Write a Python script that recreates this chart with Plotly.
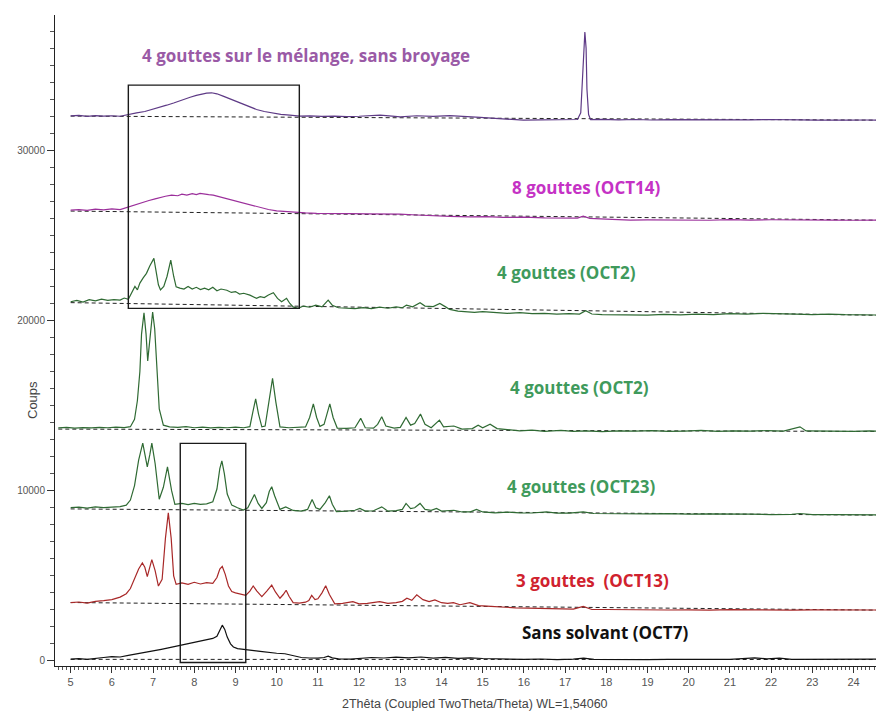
import plotly.graph_objects as go

# ---------------- data ----------------
oct7_x = [5.0,5.2,5.4,5.6,5.8,6.0,6.2,6.4,6.6,6.8,7.0,7.2,7.4,7.6,7.8,8.0,8.2,8.35,8.45,8.55,8.62,8.68,8.74,8.8,8.88,8.95,9.05,9.2,9.4,9.6,9.8,10.0,10.2,10.4,10.6,10.8,11.0,11.15,11.25,11.35,11.5,11.8,12.0,12.3,12.6,12.9,13.2,13.5,13.8,14.1,14.4,14.7,15.0,15.3,15.6,16.0,16.4,16.8,17.2,17.45,17.7,18.0,18.5,19.0,19.5,20.0,20.5,21.0,21.3,21.6,21.9,22.2,22.5,23.0,23.5,24.0,24.4,24.75]
oct7_y = [100,130,90,160,200,250,230,320,400,500,600,680,780,880,960,1050,1150,1250,1320,1450,1800,2100,1850,1400,1000,820,720,660,620,560,490,450,420,330,200,170,160,200,280,180,120,100,140,200,170,220,180,230,160,210,150,180,140,120,100,90,110,80,100,160,90,80,100,70,90,80,100,90,130,180,120,160,90,100,80,110,90,100]

oct13_x = [5.0,5.2,5.4,5.6,5.8,6.0,6.2,6.35,6.45,6.55,6.65,6.74,6.8,6.86,6.92,6.97,7.05,7.13,7.22,7.3,7.37,7.44,7.5,7.56,7.7,7.85,8.0,8.15,8.3,8.45,8.55,8.62,8.68,8.75,8.83,8.91,9.0,9.1,9.25,9.35,9.43,9.52,9.64,9.76,9.88,9.97,10.08,10.16,10.23,10.3,10.4,10.55,10.7,10.78,10.85,10.93,11.0,11.1,11.19,11.28,11.41,11.6,11.85,12.0,12.2,12.5,12.7,12.9,13.05,13.16,13.28,13.4,13.55,13.7,13.84,14.0,14.15,14.29,14.45,14.69,14.9,15.2,15.5,15.8,16.1,16.5,16.9,17.2,17.44,17.65,18.0,18.5,19.0,19.5,20.0,20.5,21.0,21.5,22.0,22.5,23.0,23.5,24.0,24.4,24.75]
oct13_y = [3420,3460,3400,3500,3540,3600,3750,3950,4250,4800,5400,5750,5500,4950,5500,5950,5300,4400,4800,7200,8700,7200,5000,4500,4580,4500,4620,4520,4600,4550,4900,5400,5550,5100,4400,4080,4000,3950,3850,4100,4400,4100,3780,4100,4450,4050,3680,3900,4150,3800,3420,3400,3450,3550,3850,3600,3650,4000,4420,3900,3350,3380,3480,3350,3380,3480,3380,3420,3500,3680,3560,3880,3600,3480,3580,3420,3380,3420,3300,3420,3250,3200,3150,3120,3100,3080,3060,3040,3200,3020,3020,3000,3010,2990,3000,2980,3010,2990,3000,2980,3000,2990,2980,3000,2990]

oct23_x = [5.0,5.2,5.4,5.6,5.8,6.0,6.2,6.35,6.45,6.55,6.65,6.75,6.81,6.86,6.92,6.97,7.05,7.15,7.25,7.35,7.45,7.53,7.7,7.85,8.0,8.15,8.3,8.45,8.55,8.62,8.67,8.73,8.8,8.91,9.05,9.19,9.3,9.39,9.46,9.55,9.64,9.75,9.82,9.88,9.95,10.08,10.22,10.4,10.6,10.75,10.86,10.95,11.05,11.18,11.28,11.35,11.45,11.7,11.9,12.02,12.15,12.35,12.55,12.7,12.9,13.05,13.14,13.25,13.35,13.48,13.6,13.75,13.88,14.0,14.3,14.5,14.7,14.85,15.0,15.3,15.6,15.9,16.2,16.55,16.8,17.1,17.44,17.7,18.0,18.5,19.0,19.5,20.0,20.5,21.0,21.5,22.0,22.5,22.7,23.0,23.5,24.0,24.4,24.75]
oct23_y = [9000,9030,8980,9050,9000,9020,9060,9150,9450,10300,11800,12800,12100,11400,12100,12800,11600,9500,10200,11400,10000,9200,9250,9180,9260,9200,9230,9350,10100,11300,11750,11000,9800,9150,9000,8860,9000,9400,9780,9250,8960,9300,9950,10230,9700,8900,9050,8840,8800,8900,9480,9000,8900,9300,9700,9200,8770,8800,8850,8960,8800,8820,9050,8800,8830,8900,9250,8950,9000,9250,8900,8850,8960,8800,8850,8750,8760,8900,8750,8700,8740,8700,8690,8760,8680,8680,8760,8660,8650,8660,8640,8650,8620,8640,8610,8620,8600,8610,8660,8590,8600,8580,8590,8570]

oct2a_x = [4.7,4.9,5.1,5.3,5.5,5.7,5.9,6.1,6.3,6.45,6.55,6.62,6.68,6.72,6.78,6.83,6.87,6.92,6.99,7.04,7.09,7.15,7.25,7.4,7.6,7.8,8.0,8.2,8.4,8.6,8.8,9.0,9.2,9.35,9.42,9.49,9.56,9.64,9.72,9.8,9.9,9.98,10.08,10.3,10.5,10.7,10.8,10.89,10.97,11.05,11.15,11.22,11.29,11.37,11.47,11.7,11.9,12.04,12.15,12.35,12.45,12.55,12.65,12.85,13.0,13.14,13.25,13.35,13.49,13.6,13.75,13.95,14.05,14.3,14.5,14.75,14.89,15.0,15.18,15.35,15.6,15.9,16.2,16.5,16.9,17.2,17.5,17.9,18.3,18.7,19.1,19.5,19.9,20.3,20.7,21.1,21.5,21.9,22.3,22.7,22.85,23.2,23.6,24.0,24.4,24.75]
oct2a_y = [13690,13720,13680,13710,13690,13720,13700,13730,13710,13760,14200,15300,17000,19200,20450,19200,17630,19000,20500,19500,17300,14800,13850,13750,13720,13760,13700,13740,13690,13720,13700,13730,13700,13760,14600,15400,14500,13750,13800,15000,16600,15200,13750,13700,13720,13750,14300,15100,14300,13780,13900,14500,15100,14300,13680,13660,13700,14250,13700,13680,13900,14340,13800,13680,13720,14300,13850,13950,14500,13900,13700,14150,13750,13800,13620,13650,13850,13700,13910,13650,13600,13520,13560,13480,13540,13480,13520,13470,13520,13500,13530,13480,13500,13540,13490,13520,13500,13530,13500,13750,13510,13500,13530,13490,13510,13500]

oct2b_x = [5.0,5.15,5.3,5.45,5.6,5.75,5.9,6.05,6.2,6.3,6.4,6.48,6.56,6.62,6.68,6.76,6.84,6.92,7.02,7.08,7.13,7.18,7.26,7.34,7.43,7.5,7.56,7.65,7.75,7.85,7.95,8.05,8.15,8.25,8.35,8.45,8.55,8.65,8.79,8.9,9.0,9.1,9.2,9.35,9.45,9.51,9.6,9.7,9.8,9.92,10.02,10.12,10.24,10.32,10.4,10.52,10.65,10.8,10.95,11.1,11.25,11.35,11.5,11.7,11.9,12.1,12.3,12.5,12.7,12.9,13.05,13.15,13.3,13.48,13.6,13.8,13.96,14.1,14.2,14.4,14.6,14.8,15.0,15.3,15.6,15.9,16.2,16.5,16.8,17.1,17.35,17.5,17.65,17.9,18.3,18.7,19.0,19.4,19.8,20.2,20.6,21.0,21.4,21.8,22.2,22.6,23.0,23.4,23.8,24.2,24.75]
oct2b_y = [21100,21180,21080,21220,21150,21250,21180,21230,21200,21320,21250,21600,22000,21800,22200,22500,22770,23200,23650,22800,22100,21800,22000,22600,23550,22600,21980,21900,21850,22000,21850,21950,21820,21900,21800,21950,21750,21850,21780,21650,21700,21550,21600,21490,21350,21300,21400,21350,21500,21630,21300,21100,21300,21000,20800,20710,20850,20780,20900,20800,21200,20900,20750,20720,20700,20760,20700,20780,20720,20800,20750,20900,20800,21040,20850,20820,21000,20800,20650,20550,20500,20480,20520,20450,20420,20460,20400,20420,20380,20400,20380,20570,20380,20350,20330,20340,20320,20360,20330,20380,20350,20400,20380,20420,20420,20380,20350,20370,20340,20330,20320]

oct14_x = [5.0,5.2,5.4,5.6,5.8,6.0,6.2,6.4,6.6,6.76,6.9,7.05,7.17,7.3,7.45,7.6,7.7,7.82,7.95,8.05,8.14,8.25,8.35,8.46,8.6,8.79,9.0,9.19,9.4,9.59,9.8,10.0,10.2,10.4,10.7,10.97,11.3,11.78,12.2,12.6,12.99,13.4,13.8,14.2,14.69,15.1,15.5,16.0,16.5,17.0,17.3,17.44,17.6,18.0,18.58,19.0,19.5,20.0,20.5,21.0,21.5,22.0,22.5,23.0,23.5,24.0,24.4,24.75]
oct14_y = [26490,26520,26470,26540,26500,26560,26520,26680,26800,26970,27050,27150,27230,27300,27370,27330,27420,27370,27450,27400,27470,27420,27400,27370,27280,27170,27050,26920,26780,26650,26520,26440,26400,26350,26320,26290,26300,26280,26270,26280,26250,26200,26180,26120,26090,26100,26060,26070,26030,26050,26020,26130,26000,25960,25900,25910,25900,25910,25890,25930,25900,25920,25900,25910,25900,25890,25900,25900]

melange_x = [5.0,5.2,5.4,5.6,5.8,6.0,6.2,6.4,6.6,6.8,6.93,7.1,7.33,7.5,7.73,7.9,8.05,8.2,8.3,8.42,8.55,8.7,8.9,9.11,9.3,9.51,9.7,9.92,10.1,10.32,10.56,10.8,11.1,11.4,11.7,12.0,12.51,12.8,13.0,13.4,13.8,14.2,14.6,14.94,15.3,15.6,15.99,16.4,16.8,17.1,17.3,17.38,17.41,17.45,17.48,17.51,17.53,17.57,17.62,17.9,18.3,18.7,19.1,19.5,19.9,20.3,20.7,21.1,21.5,21.9,22.3,22.7,23.1,23.5,23.9,24.3,24.75]
melange_y = [32020,32050,31990,32040,32010,32030,32000,32110,32200,32280,32360,32480,32650,32780,32990,33120,33230,33320,33360,33380,33320,33180,32990,32790,32600,32400,32280,32170,32110,32070,32010,32020,31990,32010,31980,32000,32070,32010,31970,32030,31990,32040,31960,31930,31880,31830,31770,31790,31780,31800,31810,32200,33600,36000,36950,36000,33600,32100,31800,31820,31790,31810,31780,31800,31790,31820,31780,31800,31790,31810,31780,31790,31770,31790,31770,31780,31770]

# background (dashed) lines: [x_start, x_end], [y_start, y_end]
bg_x = [[5.0, 24.75], [5.0, 24.75], [5.0, 24.75], [4.7, 24.75], [5.0, 24.75], [5.0, 24.75], [5.0, 24.75]]
bg_y = [[90, 80], [3430, 2980], [8930, 8560], [13620, 13480], [21050, 20300], [26430, 25890], [32010, 31770]]

names = ["Sans solvant (OCT7)", "3 gouttes\u00a0 (OCT13)", "4 gouttes (OCT23)", "4 gouttes (OCT2)",
         "4 gouttes (OCT2)", "8 gouttes (OCT14)", "4 gouttes sur le mélange, sans broyage"]
xs = [oct7_x, oct13_x, oct23_x, oct2a_x, oct2b_x, oct14_x, melange_x]
ys = [oct7_y, oct13_y, oct23_y, oct2a_y, oct2b_y, oct14_y, melange_y]
line_colors = ["#111111", "#a82828", "#2f6a33", "#2f6a33", "#2f6a33", "#9b2f9b", "#5e3a86"]
label_colors = ["#111111", "#d0222e", "#3f9a5c", "#3f9a5c", "#3f9a5c", "#c532c5", "#9a5aa6"]
# label left edge (degrees) and vertical centre (counts)
label_x = [15.90, 15.76, 15.54, 15.61, 15.30, 15.66, 6.68]
label_y = [1640, 4750, 10270, 16090, 22840, 27840, 35590]

# boxes: x0, x1, y0, y1
boxes = [(6.40, 10.55, 20710, 33830), (7.66, 9.25, -90, 12780)]

fig = go.Figure()
for bx, by in zip(bg_x, bg_y):
    fig.add_trace(go.Scatter(x=bx, y=by, mode="lines", line=dict(color="#222222", width=1, dash="4px,3px"),
                             hoverinfo="skip", showlegend=False))
for x, y, c, n in zip(xs, ys, line_colors, names):
    fig.add_trace(go.Scatter(x=x, y=y, mode="lines", line=dict(color=c, width=1.2), name=n, showlegend=False))

for (x0, x1, y0, y1) in boxes:
    fig.add_shape(type="rect", x0=x0, x1=x1, y0=y0, y1=y1, xref="x", yref="y",
                  line=dict(color="#1a1a1a", width=1.4), fillcolor="rgba(0,0,0,0)")

# page body has an 8px margin, so the figure is offset by (8, 8) on screen
fig.update_layout(
    width=884, height=713,
    margin=dict(l=47, r=8, t=7, b=55),
    paper_bgcolor="#ffffff", plot_bgcolor="#ffffff",
    font=dict(family="Liberation Sans, Arial, sans-serif", color="#555555"),
    xaxis=dict(range=[4.62, 24.74], showgrid=False, zeroline=False, showline=True, linecolor="#222222",
               linewidth=1, ticks="outside", ticklen=6, tickcolor="#333333", dtick=1, tick0=0,
               tickfont=dict(size=11, color="#555555"),
               minor=dict(dtick=0.1, ticks="outside", ticklen=3, tickcolor="#555555")),
    yaxis=dict(range=[-300, 37950], showgrid=False, zeroline=False, showline=True, linecolor="#222222",
               linewidth=1, ticks="outside", ticklen=7, tickcolor="#333333", dtick=10000, tick0=0,
               tickformat="d", tickfont=dict(size=10, color="#555555"),
               minor=dict(dtick=1000, ticks="outside", ticklen=4, tickcolor="#555555")),
)

for n, c, lx, ly in zip(names, label_colors, label_x, label_y):
    fig.add_annotation(x=lx, y=ly, xref="x", yref="y", text="<b>" + n + "</b>", showarrow=False,
                       xanchor="left", yanchor="middle",
                       font=dict(family="Open Sans, Lato, sans-serif", size=17, color=c))

fig.add_annotation(x=(475 - 55) / 829, xref="paper", y=-(704 - 666) / 651, yref="paper",
                   text="2Thêta (Coupled TwoTheta/Theta) WL=1,54060", showarrow=False,
                   xanchor="center", yanchor="middle", font=dict(size=12.5, color="#444444"))
fig.add_annotation(x=-(55 - 33) / 829, xref="paper", y=(666 - 400) / 651, yref="paper",
                   text="Coups", textangle=-90, showarrow=False,
                   xanchor="center", yanchor="middle", font=dict(size=13, color="#444444"))

fig.write_html("out.html")
